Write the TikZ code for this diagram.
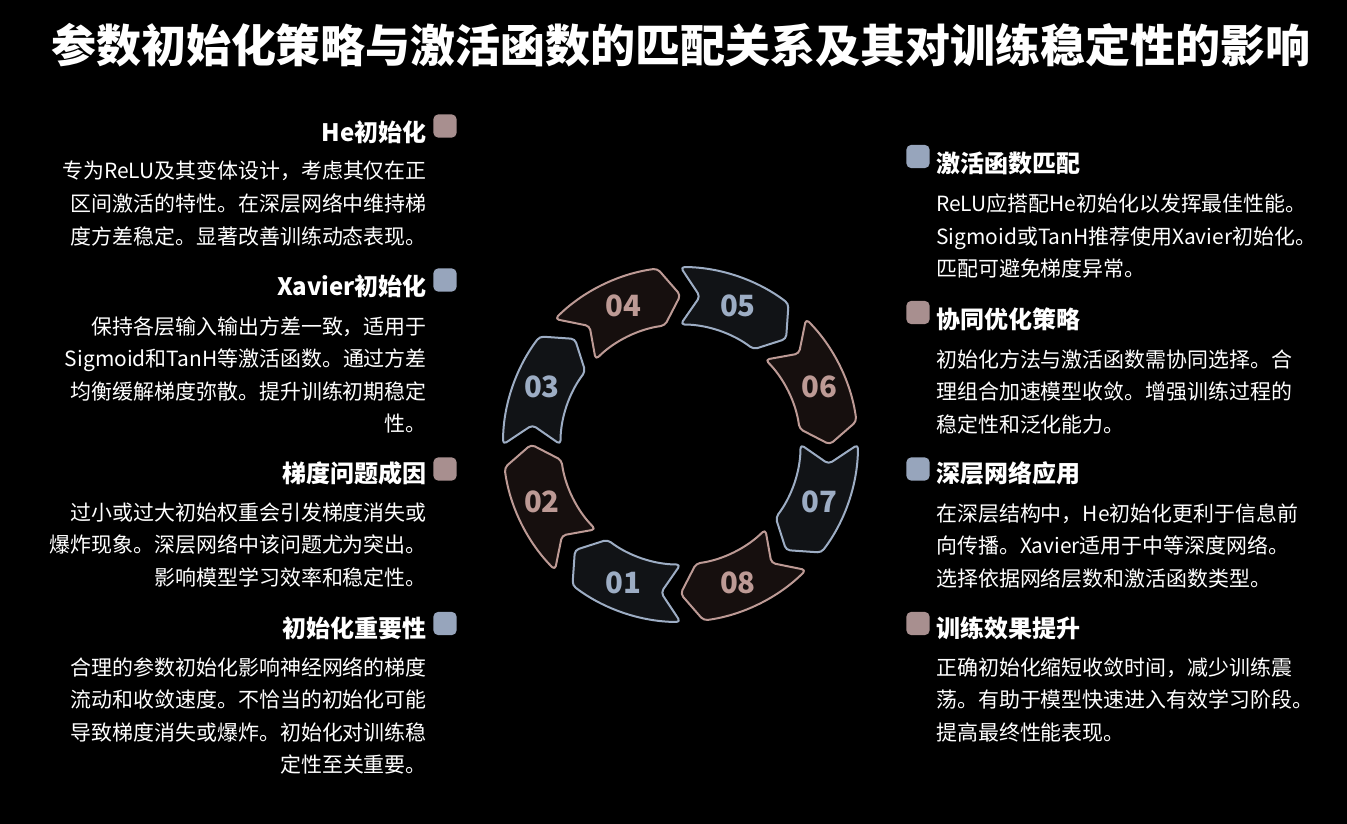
\documentclass[tikz,border=0pt]{standalone}
\usepackage{fontspec}
\setmainfont{Noto Sans CJK SC}
\definecolor{sqpink}{HTML}{A88F8F}
\definecolor{sqblue}{HTML}{97A5BC}
\definecolor{ringblue}{HTML}{9DADC4}
\definecolor{ringpink}{HTML}{BD9A95}
\definecolor{fillblue}{HTML}{111316}
\definecolor{fillpink}{HTML}{160F0E}
\begin{document}
\begin{tikzpicture}[x=0.75pt,y=-0.75pt,
  titlefont/.style={font=\fontsize{33.75pt}{40pt}\selectfont\bfseries, text=white, inner sep=0pt},
  head/.style={font=\fontsize{18pt}{22pt}\selectfont\bfseries, text=white, inner sep=0pt},
  body/.style={font=\fontsize{15.7pt}{20pt}\selectfont, text=white, inner sep=0pt},
  sq/.style={rounded corners=3.75pt, minimum size=17.5pt, inner sep=0pt, draw=none},
  seg/.style={line width=1.5pt, line join=round, rounded corners=3pt},
  ringlab/.style={font=\fontsize{22pt}{24pt}\selectfont\bfseries, inner sep=0pt}
]
\fill[black, use as bounding box] (0,0) rectangle (1347,824);

% title
\node[titlefont, anchor=base] (title) at (681,63) {参数初始化策略与激活函数的匹配关系及其对训练稳定性的影响};

% ring
\begin{scope}[shift={(680.5,444.5)}]
\foreach \i in {1,...,8}{
  \pgfmathsetmacro{\c}{292.5-45*\i}
  \pgfmathsetmacro{\T}{\c+22.5}
  \pgfmathsetmacro{\L}{\c-15}
  \pgfmathsetmacro{\P}{\c-22.5}
  \pgfmathsetmacro{\N}{\c+15}
  \ifodd\i\relax \def\sc{ringblue}\def\fc{fillblue}\else \def\sc{ringpink}\def\fc{fillpink}\fi
  \draw[seg, draw=\sc, fill=\fc] (\T:133.1pt) arc[start angle=\T, end angle=\L, radius=133.1pt]
     -- (\P:112pt) -- (\L:90pt) arc[start angle=\L, end angle=\T, radius=90pt]
     -- (\N:112pt) -- cycle;
  \node[ringlab, text=\sc] (n\i) at (\c:112.5pt) {0\i};
}
\end{scope}

% left column
\node[sq, fill=sqpink] (ls1) at (445,126) {};
\node[head, anchor=base east] (lh1) at (427,141.5) {He初始化};
\foreach \txt [count=\k] in {专为ReLU及其变体设计，考虑其仅在正, 区间激活的特性。在深层网络中维持梯, 度方差稳定。显著改善训练动态表现。}
  \node[body, anchor=base east] (lb1-\k) at (427,{179+(\k-1)*32.5}) {\txt};

\node[sq, fill=sqblue] (ls2) at (445,280) {};
\node[head, anchor=base east] (lh2) at (427,295) {Xavier初始化};
\foreach \txt [count=\k] in {保持各层输入输出方差一致，适用于, Sigmoid和TanH等激活函数。通过方差, 均衡缓解梯度弥散。提升训练初期稳定, 性。}
  \node[body, anchor=base east] (lb2-\k) at (427,{334.5+(\k-1)*32.3}) {\txt};

\node[sq, fill=sqpink] (ls3) at (445,469) {};
\node[head, anchor=base east] (lh3) at (427,482) {梯度问题成因};
\foreach \txt [count=\k] in {过小或过大初始权重会引发梯度消失或, 爆炸现象。深层网络中该问题尤为突出。, 影响模型学习效率和稳定性。}
  \node[body, anchor=base east] (lb3-\k) at (427,{520+(\k-1)*32.5}) {\txt};

\node[sq, fill=sqblue] (ls4) at (445,623.5) {};
\node[head, anchor=base east] (lh4) at (427,637) {初始化重要性};
\foreach \txt [count=\k] in {合理的参数初始化影响神经网络的梯度, 流动和收敛速度。不恰当的初始化可能, 导致梯度消失或爆炸。初始化对训练稳, 定性至关重要。}
  \node[body, anchor=base east] (lb4-\k) at (427,{675+(\k-1)*32.5}) {\txt};

% right column
\node[sq, fill=sqblue] (rs1) at (918,156.5) {};
\node[head, anchor=base west] (rh1) at (936,172) {激活函数匹配};
\foreach \txt [count=\k] in {ReLU应搭配He初始化以发挥最佳性能。, Sigmoid或TanH推荐使用Xavier初始化。, 匹配可避免梯度异常。}
  \node[body, anchor=base west] (rb1-\k) at (936,{211.5+(\k-1)*32.5}) {\txt};

\node[sq, fill=sqpink] (rs2) at (918,312.5) {};
\node[head, anchor=base west] (rh2) at (936,328) {协同优化策略};
\foreach \txt [count=\k] in {初始化方法与激活函数需协同选择。合, 理组合加速模型收敛。增强训练过程的, 稳定性和泛化能力。}
  \node[body, anchor=base west] (rb2-\k) at (936,{367+(\k-1)*32.5}) {\txt};

\node[sq, fill=sqblue] (rs3) at (918,469) {};
\node[head, anchor=base west] (rh3) at (936,482) {深层网络应用};
\foreach \txt [count=\k] in {在深层结构中，He初始化更利于信息前, 向传播。Xavier适用于中等深度网络。, 选择依据网络层数和激活函数类型。}
  \node[body, anchor=base west] (rb3-\k) at (936,{521+(\k-1)*32.5}) {\txt};

\node[sq, fill=sqpink] (rs4) at (918,623.5) {};
\node[head, anchor=base west] (rh4) at (936,637) {训练效果提升};
\foreach \txt [count=\k] in {正确初始化缩短收敛时间，减少训练震, 荡。有助于模型快速进入有效学习阶段。, 提高最终性能表现。}
  \node[body, anchor=base west] (rb4-\k) at (936,{675+(\k-1)*32.5}) {\txt};
\end{tikzpicture}
\end{document}
